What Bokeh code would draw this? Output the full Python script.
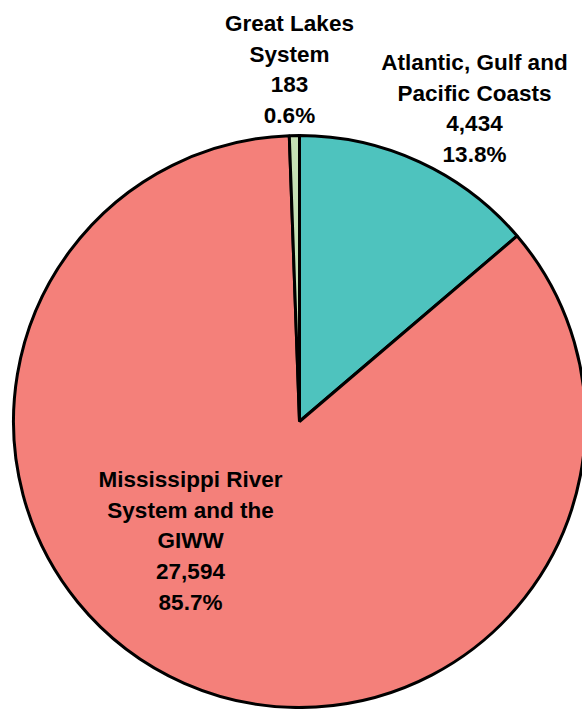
import math
from bokeh.plotting import figure
from bokeh.models import Range1d, ColumnDataSource
from bokeh.core.properties import value
from bokeh.embed import file_html
from bokeh.resources import INLINE

# Data (clockwise from 12 o'clock)
categories = ["Atlantic, Gulf and Pacific Coasts", "Mississippi River System and the GIWW", "Great Lakes System"]
label_lines = [["Atlantic, Gulf and", "Pacific Coasts"],
               ["Mississippi River", "System and the", "GIWW"],
               ["Great Lakes", "System"]]
values = [4434, 27594, 183]
colors = ["#4EC3BE", "#F4807A", "#C5E0B4"]

W, H = 582, 709
CX, CY, R = 299, H - 421, 286
# label anchors (x center, baseline of first line, in px from top)
label_pos = [(474, 62), (190, 479), (289, 23)]
LINE_H = 30.7

total = sum(values)
starts, ends = [], []
cum = 0.0
for v in values:
    starts.append(math.pi / 2 - 2 * math.pi * cum / total)
    cum += v
    ends.append(math.pi / 2 - 2 * math.pi * cum / total)

p = figure(width=W, height=H, x_range=Range1d(0, W), y_range=Range1d(0, H),
           output_backend="svg", toolbar_location=None, min_border=0)
p.axis.visible = False
p.grid.visible = False
p.outline_line_color = None
p.background_fill_color = "white"

src = ColumnDataSource(dict(start=starts, end=ends, color=colors))
p.wedge(x=CX, y=CY, radius=R, start_angle="start", end_angle="end", direction="clock",
        fill_color="color", line_color="black", line_width=3, source=src)

xs, ys, texts = [], [], []
for i, v in enumerate(values):
    lines = label_lines[i] + [f"{v:,}", f"{v / total:.1%}"]
    lx, ly = label_pos[i]
    for j, t in enumerate(lines):
        xs.append(lx)
        ys.append(H - (ly + j * LINE_H))
        texts.append(t)

p.text(x=xs, y=ys, text=texts, text_align="center", text_baseline="alphabetic",
       text_font=value("Liberation Sans"), text_font_style="bold", text_font_size="22.5px",
       text_color="black")

open("out.html", "w").write(file_html(p, INLINE))
